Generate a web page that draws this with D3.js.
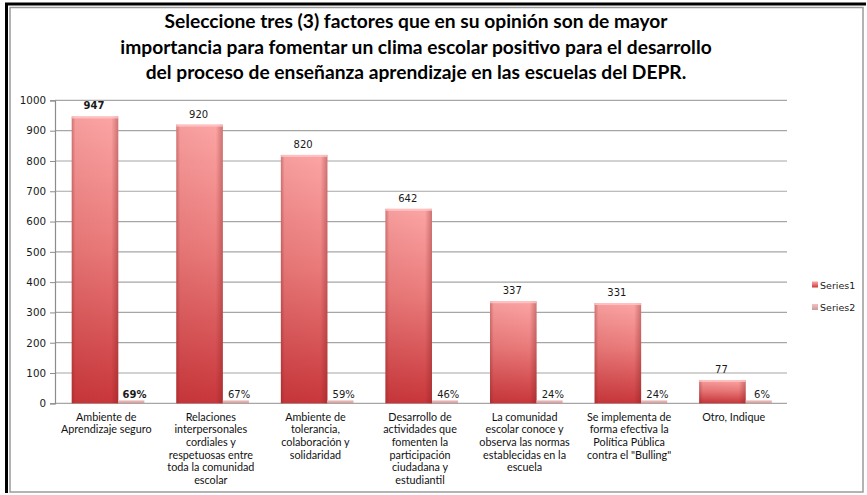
<!DOCTYPE html>
<html><head><meta charset="utf-8">
<script src="https://cdn.jsdelivr.net/npm/d3@7"></script>
<style>body{margin:0;background:#fff}svg{display:block}</style>
</head><body><svg id="c" width="867" height="495"></svg>
<script>
const titleLines = [
  "Seleccione tres (3) factores que en su opinión son de mayor",
  "importancia para fomentar un clima escolar positivo para el desarrollo",
  "del proceso de enseñanza aprendizaje en las escuelas del DEPR."
];
const categories = [
  ["Ambiente de", "Aprendizaje seguro"],
  ["Relaciones", "interpersonales", "cordiales y", "respetuosas entre", "toda la comunidad", "escolar"],
  ["Ambiente de", "tolerancia,", "colaboración y", "solidaridad"],
  ["Desarrollo de", "actividades que", "fomenten la", "participación", "ciudadana y", "estudiantil"],
  ["La comunidad", "escolar conoce y", "observa las normas", "establecidas en la", "escuela"],
  ["Se implementa de", "forma efectiva la", "Política Pública", "contra el \"Bulling\""],
  ["Otro, Indique"]
];
const series1 = [947, 920, 820, 642, 337, 331, 77];
const series2 = [0.69, 0.67, 0.59, 0.46, 0.24, 0.24, 0.06];
const series2Labels = ["69%", "67%", "59%", "46%", "24%", "24%", "6%"];
const yTicks = [0, 100, 200, 300, 400, 500, 600, 700, 800, 900, 1000];
const seriesNames = ["Series1", "Series2"];

const svg = d3.select("#c");
const defs = svg.append("defs");
const g1 = defs.append("linearGradient").attr("id","s1v").attr("x1",0).attr("y1",0).attr("x2",0).attr("y2",1);
g1.append("stop").attr("offset","0%").attr("stop-color","#fca4a4");
g1.append("stop").attr("offset","45%").attr("stop-color","#ea7a7a");
g1.append("stop").attr("offset","100%").attr("stop-color","#c8363a");
const gh = defs.append("linearGradient").attr("id","s1h").attr("x1",0).attr("y1",0).attr("x2",1).attr("y2",0);
gh.append("stop").attr("offset","0%").attr("stop-color","#7a1a1a").attr("stop-opacity",0.35);
gh.append("stop").attr("offset","8%").attr("stop-color","#7a1a1a").attr("stop-opacity",0.05);
gh.append("stop").attr("offset","85%").attr("stop-color","#7a1a1a").attr("stop-opacity",0.0);
gh.append("stop").attr("offset","100%").attr("stop-color","#7a1a1a").attr("stop-opacity",0.35);
const g2 = defs.append("linearGradient").attr("id","s2v").attr("x1",0).attr("y1",0).attr("x2",0).attr("y2",1);
g2.append("stop").attr("offset","0%").attr("stop-color","#f2c2c2");
g2.append("stop").attr("offset","100%").attr("stop-color","#c99c9c");

// frame
svg.append("rect").attr("x",10).attr("y",7.5).attr("width",853).attr("height",484.5)
  .attr("fill","none").attr("stroke","#9a9a9a").attr("stroke-width",1.5);
svg.append("path").attr("d","M6.5,493 V4 H866").attr("fill","none").attr("stroke","#000").attr("stroke-width",3);

// title
svg.append("g").selectAll("text").data(titleLines).join("text")
  .attr("x",416).attr("y",(d,i)=>28+i*25.5).attr("text-anchor","middle")
  .attr("font-family","Lato, 'Open Sans', sans-serif").attr("font-weight","bold")
  .attr("font-size",19.2).attr("fill","#000").text(d=>d);

const plotLeft = 55, plotRight = 787, plotTop = 100.4, plotBottom = 403.3;
const y = d3.scaleLinear().domain([0,1000]).range([plotBottom, plotTop]);
const x0 = d3.scaleBand().domain(d3.range(categories.length)).range([plotLeft,plotRight]).padding(0);
const bw0 = x0.bandwidth();
const x1 = d3.scaleBand().domain(seriesNames).range([bw0*0.16, bw0*0.16 + bw0*0.89]).padding(0);

// gridlines
svg.append("g").selectAll("line").data(yTicks).join("line")
  .attr("x1",plotLeft).attr("x2",plotRight).attr("y1",d=>y(d)).attr("y2",d=>y(d))
  .attr("stroke","#a6a6a6").attr("stroke-width",1.2);

// y axis
const yAxis = d3.axisLeft(y).tickValues(yTicks).tickSize(5).tickFormat(d3.format("d"));
const ya = svg.append("g").attr("transform",`translate(${plotLeft},0)`).call(yAxis);
ya.select(".domain").attr("stroke","#8c8c8c").attr("stroke-width",1.2);
ya.selectAll(".tick line").attr("stroke","#8c8c8c");
ya.selectAll(".tick text").attr("font-family","'DejaVu Sans', sans-serif").attr("font-size",10.3)
  .attr("fill","#1a1a1a").attr("x",-9);

// series1 bars
const bars = svg.append("g");
series1.forEach((v,i)=>{
  const bx = x0(i)+x1("Series1"), bw = x1.bandwidth();
  bars.append("rect").attr("x",bx).attr("y",y(v)).attr("width",bw).attr("height",y(0)-y(v)).attr("fill","url(#s1v)");
  bars.append("rect").attr("x",bx).attr("y",y(v)).attr("width",bw).attr("height",y(0)-y(v)).attr("fill","url(#s1h)");
  bars.append("rect").attr("x",bx).attr("y",y(v)).attr("width",bw).attr("height",2).attr("fill","#ffc8c8").attr("opacity",0.8);
});
// series2 bars (tiny)
series2.forEach((v,i)=>{
  const bx = x0(i)+x1("Series2"), bw = x1.bandwidth()*0.56;
  const h = Math.max(y(0)-y(v), 3);
  bars.append("rect").attr("x",bx).attr("y",y(0)-h).attr("width",bw).attr("height",h).attr("fill","url(#s2v)");
});

// value labels
svg.append("g").selectAll("text").data(series1).join("text")
  .attr("x",(d,i)=>x0(i)+x1("Series1")+x1.bandwidth()/2-1).attr("y",d=>y(d)-7)
  .attr("text-anchor","middle").attr("font-family","'DejaVu Sans', sans-serif").attr("font-size",10)
  .attr("font-weight",(d,i)=>i===0?"bold":"normal").attr("fill","#1a1a1a").text(d=>d);
svg.append("g").selectAll("text").data(series2).join("text")
  .attr("x",(d,i)=>x0(i)+x1("Series2")+x1.bandwidth()/2-7).attr("y",d=>y(d)-5)
  .attr("text-anchor","middle").attr("font-family","'DejaVu Sans', sans-serif").attr("font-size",10)
  .attr("font-weight",(d,i)=>i===0?"bold":"normal").attr("fill","#1a1a1a").text((d,i)=>series2Labels[i]);

// x labels
const xl = svg.append("g");
categories.forEach((lines,i)=>{
  const cx = x0(i)+x0.bandwidth()/2-1;
  const t = xl.append("text").attr("x",cx).attr("y",420.5)
    .attr("text-anchor","middle").attr("font-family","Lato, 'Open Sans', sans-serif")
    .attr("font-size",10.8).attr("fill","#111");
  lines.forEach((ln,j)=>t.append("tspan").attr("x",cx).attr("dy",j===0?0:12.7).text(ln));
});

// legend
const lg = svg.append("g");
seriesNames.forEach((s,i)=>{
  lg.append("rect").attr("x",812).attr("y",281.5+i*22.5).attr("width",6).attr("height",6)
    .attr("fill",i===0?"url(#s1v)":"url(#s2v)");
  lg.append("text").attr("x",820).attr("y",288.5+i*22.5).attr("font-family","'DejaVu Sans', sans-serif")
    .attr("font-size",9.5).attr("fill","#1a1a1a").text(s);
});
</script></body></html>
